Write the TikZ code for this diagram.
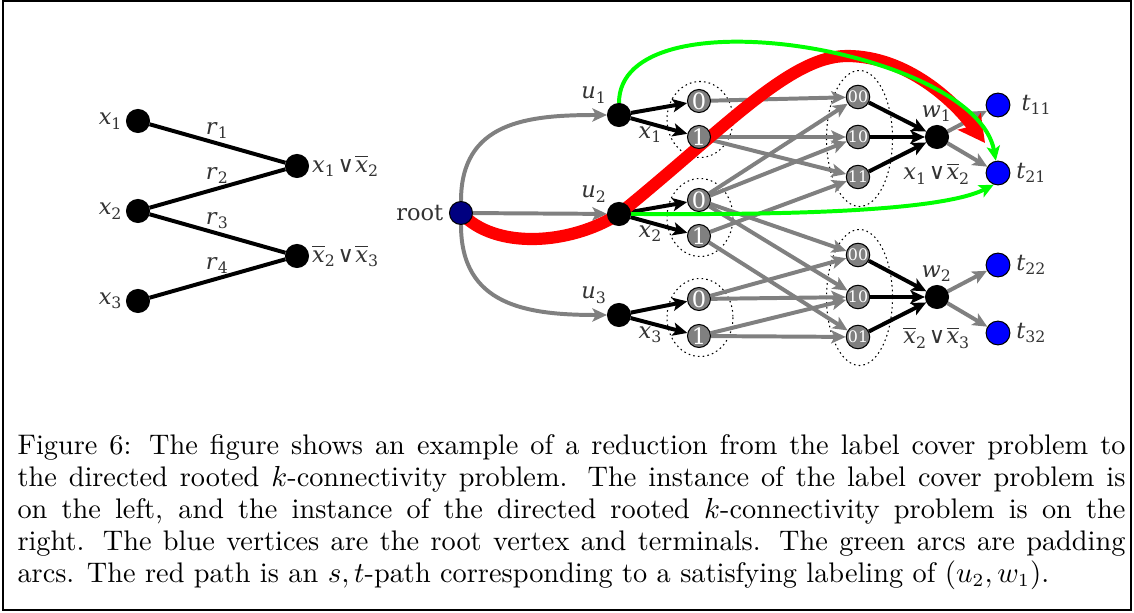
\documentclass[tikz,border=0pt]{standalone}
\usepackage{fontspec}
\newfontfamily\lblfont{DejaVu Serif}
\newfontfamily\symfont{DejaVu Sans}
\usetikzlibrary{arrows.meta,positioning,backgrounds}

\definecolor{edgegray}{RGB}{128,128,128}
\definecolor{txtgray}{RGB}{51,51,51}
\definecolor{padgreen}{RGB}{0,255,0}
\definecolor{rootblue}{RGB}{0,0,128}

\newcommand{\lv}[2]{\textit{#1}\textsubscript{#2}}
\newcommand{\nlv}[2]{$\overline{\mbox{\textit{#1}}}$\textsubscript{#2}}
\newcommand{\orsym}{{\symfont\kern0.5pt∨\kern0.5pt}}

\tikzset{
  vtx/.style={circle, draw=black, fill=black, minimum size=8.7pt, inner sep=0pt},
  lbl/.style={inner sep=1pt, text=txtgray, font=\lblfont\fontsize{8.5}{10}\selectfont},
  labelvtx/.style={circle, draw=black, line width=0.4pt, fill=edgegray, minimum size=8.7pt, inner sep=0pt, text=white, font=\lblfont\fontsize{8.5}{9}\selectfont},
  pairvtx/.style={labelvtx, font=\lblfont\fontsize{6}{7}\selectfont},
  termvtx/.style={circle, draw=black, line width=0.4pt, fill=blue, minimum size=9pt, inner sep=0pt},
  grayarc/.style={draw=edgegray, line width=1.5pt, -{Stealth[length=5.5pt,width=5pt,inset=1.3pt]}},
  blackarc/.style={draw=black, line width=1.5pt, -{Stealth[length=5.5pt,width=5pt,inset=1.3pt]}},
  padarc/.style={draw=padgreen, line width=1.5pt, -{Stealth[length=5.5pt,width=5pt,inset=1.3pt]}},
  redpath/.style={draw=red, line width=4.6pt, -{Stealth[length=10pt,width=10.5pt,inset=2pt]}},
  labelgroup/.style={draw=black, line width=0.4pt, dash pattern=on 0.6pt off 1.2pt},
  cover/.style={draw=black, line width=1.5pt},
}

\begin{document}
\begin{tikzpicture}[x=0.378pt, y=-0.378pt]
  \useasboundingbox (0,0) rectangle (1134,613);
  \draw[line width=0.5pt] (3,1) rectangle (1131,610);

  % label cover instance
  \node[vtx] (x1) at (138,121) {};
  \node[vtx] (x2) at (138,211) {};
  \node[vtx] (x3) at (138,301) {};
  \node[vtx] (cl1) at (297,166) {};
  \node[vtx] (cl2) at (297,256) {};
  \node[lbl, left=0pt of x1] (lx1) {\lv{x}{1}};
  \node[lbl, left=0pt of x2] (lx2) {\lv{x}{2}};
  \node[lbl, left=0pt of x3] (lx3) {\lv{x}{3}};
  \node[lbl, right=0pt of cl1] (lcl1) {\lv{x}{1}\orsym\nlv{x}{2}};
  \node[lbl, right=0pt of cl2] (lcl2) {\nlv{x}{2}\orsym\nlv{x}{3}};

  % rooted k-connectivity instance
  \node[vtx, fill=rootblue] (root) at (461,213) {};
  \node[lbl, left=1pt of root] (lroot) {root};
  \node[vtx] (u1) at (619,115) {};
  \node[vtx] (u2) at (619,214) {};
  \node[vtx] (u3) at (619,315) {};
  \node[lbl, above left=0pt of u1] (lu1) {\lv{u}{1}};
  \node[lbl, above left=0pt of u2] (lu2) {\lv{u}{2}};
  \node[lbl, above left=0pt of u3] (lu3) {\lv{u}{3}};
  \node[lbl, below right=0pt and 3pt of u1] (lxu1) {\lv{x}{1}};
  \node[lbl, below right=0pt and 3pt of u2] (lxu2) {\lv{x}{2}};
  \node[lbl, below right=0pt and 3pt of u3] (lxu3) {\lv{x}{3}};

  \node[labelvtx] (u10) at (699,101) {0};
  \node[labelvtx] (u11) at (699,137) {1};
  \node[labelvtx] (u20) at (699,200) {0};
  \node[labelvtx] (u21) at (699,236) {1};
  \node[labelvtx] (u30) at (699,299) {0};
  \node[labelvtx] (u31) at (699,336) {1};

  \node[pairvtx] (w100) at (858,97) {00};
  \node[pairvtx] (w110) at (858,137) {10};
  \node[pairvtx] (w111) at (858,177) {11};
  \node[pairvtx] (w200) at (858,255) {00};
  \node[pairvtx] (w210) at (858,297) {10};
  \node[pairvtx] (w201) at (858,337) {01};

  \node[vtx] (w1) at (937,137) {};
  \node[vtx] (w2) at (937,297) {};
  \node[lbl, above=0pt of w1] (lw1) {\lv{w}{1}};
  \node[lbl, above=0pt of w2] (lw2) {\lv{w}{2}};
  \node[lbl, below=4pt of w1] (lcw1) {\lv{x}{1}\orsym\nlv{x}{2}};
  \node[lbl, below=5.5pt of w2] (lcw2) {\nlv{x}{2}\orsym\nlv{x}{3}};

  \node[termvtx] (t11) at (998,105) {};
  \node[termvtx] (t21) at (998,173) {};
  \node[termvtx] (t22) at (998,265) {};
  \node[termvtx] (t32) at (998,333) {};
  \node[lbl, right=3pt of t11] (lt11) {\lv{t}{11}};
  \node[lbl, right=1pt of t21] (lt21) {\lv{t}{21}};
  \node[lbl, right=1pt of t22] (lt22) {\lv{t}{22}};
  \node[lbl, right=1pt of t32] (lt32) {\lv{t}{32}};
  \coordinate (redend) at (985,143);

  \begin{pgfonlayer}{background}
    % dotted label groups
    \draw[labelgroup] (700,119.5) ellipse [x radius=33, y radius=38];
    \draw[labelgroup] (700,217.5) ellipse [x radius=33, y radius=39];
    \draw[labelgroup] (700,317.5) ellipse [x radius=33, y radius=39];
    \draw[labelgroup] (859.5,138.5) ellipse [x radius=33, y radius=68];
    \draw[labelgroup] (859.5,297.5) ellipse [x radius=33, y radius=68];

    \draw[cover] (x1) -- node[lbl, above] (r1) {\lv{r}{1}} (cl1);
    \draw[cover] (x2) -- node[lbl, above] (r2) {\lv{r}{2}} (cl1);
    \draw[cover] (x2) -- node[lbl, above] (r3) {\lv{r}{3}} (cl2);
    \draw[cover] (x3) -- node[lbl, above] (r4) {\lv{r}{4}} (cl2);

    \draw[grayarc] (root) to[out=90, in=180, looseness=1.2] (u1);
    \draw[grayarc] (root) -- (u2);
    \draw[grayarc] (root) to[out=-90, in=180, looseness=1.2] (u3);
    \foreach \i in {1,2,3} {
      \draw[blackarc] (u\i) -- (u\i0);
      \draw[blackarc] (u\i) -- (u\i1);
    }
    \foreach \s/\t in {u10/w100, u11/w110, u11/w111, u20/w100, u20/w110, u21/w111,
                       u20/w200, u20/w210, u21/w201, u30/w200, u30/w210, u31/w210, u31/w201}
      \draw[grayarc] (\s) -- (\t);
    \foreach \s in {w100, w110, w111}
      \draw[blackarc] (\s) -- (w1);
    \foreach \s in {w200, w210, w201}
      \draw[blackarc] (\s) -- (w2);
    \draw[grayarc] (w1) -- (t11);
    \draw[grayarc] (w1) -- (t21);
    \draw[grayarc] (w2) -- (t22);
    \draw[grayarc] (w2) -- (t32);

    % s,t-path of the satisfying labeling
    \draw[redpath] (root.center) .. controls (495,250) and (570,245) .. (u2.center)
      .. controls (725,128) and (790,56) .. (847,56)
      .. controls (907,56) and (955,102) .. (redend);
    % padding arcs
    \draw[padarc] (u1) to[out=90, in=100, looseness=0.76] (t21);
    \draw[padarc] (u2) to[out=0, in=207, looseness=0.5] (t21.250);
  \end{pgfonlayer}

  \node[anchor=north west, inner sep=0pt, text width=418.8pt, align=justify] (caption) at (17,434)
    {\fontsize{10.7}{12.1}\selectfont
     Figure 6: The figure shows an example of a reduction from the label cover problem to\linebreak
     the directed rooted $k$-connectivity problem. The instance of the label cover problem is\linebreak
     on the left, and the instance of the directed rooted $k$-connectivity problem is on the\linebreak
     right. The blue vertices are the root vertex and terminals. The green arcs are padding\linebreak
     arcs. The red path is an $s,t$-path corresponding to a satisfying labeling of $(u_2,w_1)$.\par};
\end{tikzpicture}
\end{document}
